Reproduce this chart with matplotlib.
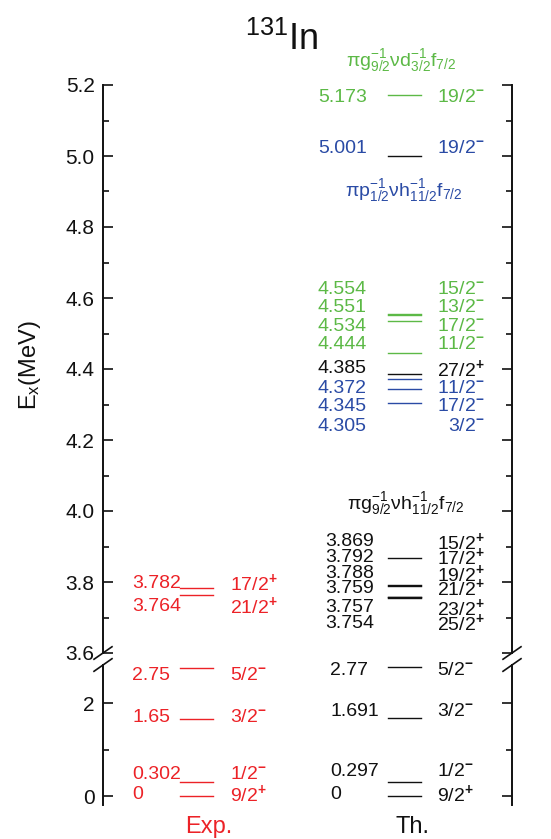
import matplotlib
matplotlib.use("Agg")
import matplotlib.pyplot as plt
from matplotlib.ticker import MultipleLocator, FixedLocator

plt.rcParams['font.family'] = ['Liberation Sans', 'DejaVu Sans']
plt.rcParams['mathtext.fontset'] = 'custom'
plt.rcParams['mathtext.rm'] = 'Liberation Sans'
plt.rcParams['mathtext.it'] = 'Liberation Sans:italic'
plt.rcParams['mathtext.bf'] = 'Liberation Sans:bold'

RED = '#EC2227'
GREEN = '#5CB946'
BLUE = '#2A4BA5'
BLACK = '#111111'

# ---- data ----
# experiment
exp_E = [0.0, 0.302, 1.65, 2.75, 3.764, 3.782]
exp_J = ['9/2+', '1/2-', '3/2-', '5/2-', '21/2+', '17/2+']
exp_lbl = ['0', '0.302', '1.65', '2.75', '3.764', '3.782']

# shell model, grouped by configuration
th_E = [0.0, 0.297, 1.691, 2.77,
        3.754, 3.757, 3.759, 3.788, 3.792, 3.869,
        4.305, 4.345, 4.372, 4.385,
        4.444, 4.534, 4.551, 4.554,
        5.001, 5.173]
th_lbl = ['0', '0.297', '1.691', '2.77',
          '3.754', '3.757', '3.759', '3.788', '3.792', '3.869',
          '4.305', '4.345', '4.372', '4.385',
          '4.444', '4.534', '4.551', '4.554',
          '5.001', '5.173']
th_J = ['9/2+', '1/2-', '3/2-', '5/2-',
        '25/2+', '23/2+', '21/2+', '19/2+', '17/2+', '15/2+',
        '3/2-', '17/2-', '11/2-', '27/2+',
        '11/2-', '17/2-', '13/2-', '15/2-',
        '19/2-', '19/2-']
th_grp = ['k', 'k', 'k', 'k',
          'k', 'k', 'k', 'k', 'k', 'k',
          'b', 'b', 'b', 'k',
          'g', 'g', 'g', 'g',
          'b', 'g']

# where the labels sit (MeV), spread so they don't overlap
exp_lbl_y = [0.04, 0.47, 1.70, 2.60, 3.732, 3.797]
th_lbl_y = [0.04, 0.52, 1.83, 2.71,
            3.684, 3.727, 3.783, 3.823, 3.870, 3.913,
            4.239, 4.293, 4.344, 4.400,
            4.468, 4.521, 4.572, 4.625,
            5.020, 5.166]

grp_col = {'k': BLACK, 'b': BLUE, 'g': GREEN}
# line colour for 5.001 is black in the original
th_line_col = [grp_col[g] for g in th_grp]
th_line_col[th_E.index(5.001)] = BLACK


def spin(j):
    return j[:-1] + r'$^{\mathbf{' + j[-1] + '}}$'


# ---- layout (pixel based) ----
W, H = 551, 839
x0, x1 = 103, 512
fig = plt.figure(figsize=(W / 100, H / 100), dpi=100)
ax_hi = fig.add_axes([x0 / W, 1 - 653 / H, (x1 - x0) / W, (653 - 85) / H])
ax_lo = fig.add_axes([x0 / W, 1 - 805 / H, (x1 - x0) / W, (805 - 665) / H])


def fx(px):
    return (px - x0) / (x1 - x0)


ax_hi.set_ylim(3.6, 5.2)
ax_lo.set_ylim(-0.19, 2.82)

for ax in (ax_hi, ax_lo):
    ax.set_xlim(0, 1)
    ax.set_xticks([])
    ax.spines['top'].set_visible(False)
    ax.spines['bottom'].set_visible(False)
    for s in ('left', 'right'):
        ax.spines[s].set_linewidth(1.4)
        ax.spines[s].set_color(BLACK)
    ax.tick_params(axis='y', which='both', direction='in', left=True, right=True,
                   labelright=False, width=1.2, colors=BLACK, labelsize=15, pad=6)
    ax.tick_params(axis='y', which='major', length=7.5)
    ax.tick_params(axis='y', which='minor', length=4.5)
    ax.patch.set_alpha(0)

ax_hi.yaxis.set_major_locator(MultipleLocator(0.2))
ax_hi.yaxis.set_minor_locator(MultipleLocator(0.1))
ax_hi.yaxis.set_major_formatter(plt.FuncFormatter(lambda v, p: f'{v:.1f}'))
ax_lo.yaxis.set_major_locator(FixedLocator([0, 2]))
ax_lo.yaxis.set_minor_locator(FixedLocator([1]))

# axis break marks
for ax, yb, dy in ((ax_hi, 0.0, 0.011), (ax_lo, 1.0, 0.045)):
    for xb in (0.0, 1.0):
        ax.plot([xb - 0.022, xb + 0.022], [yb - dy, yb + dy], color=BLACK,
                lw=1.2, transform=ax.transAxes, clip_on=False)


def pick(E):
    return ax_hi if E >= 3.6 else ax_lo


# experiment column
for E, lab, J, ly in zip(exp_E, exp_lbl, exp_J, exp_lbl_y):
    ax = pick(E)
    ax.plot([fx(180), fx(213)], [E, E], color=RED, lw=1.0)
    ax.text(fx(132), ly, lab, color=RED, fontsize=14, ha='left', va='center')
    ax.text(fx(230), ly, spin(J), color=RED, fontsize=14, ha='left', va='center')

# theory column
for E, lab, J, g, lc, ly in zip(th_E, th_lbl, th_J, th_grp, th_line_col, th_lbl_y):
    ax = pick(E)
    c = grp_col[g]
    ax.plot([fx(388), fx(421)], [E, E], color=lc, lw=1.0)
    if E >= 3.6:
        xl = 318 if E > 4.0 else 325
        ax.text(fx(xl), ly, lab, color=c, fontsize=14, ha='left', va='center')
        ax.text(fx(485), ly, spin(J), color=c, fontsize=14, ha='right', va='center')
    else:
        ax.text(fx(330), ly, lab, color=c, fontsize=14, ha='left', va='center')
        ax.text(fx(437), ly, spin(J), color=c, fontsize=14, ha='left', va='center')

# configuration labels
ax_hi.text(fx(401), 5.27, r'$\mathregular{\pi g^{-1}_{9/2}\nu d^{-1}_{3/2}f_{7/2}}$',
           color=GREEN, fontsize=14, ha='center', va='center')
ax_hi.text(fx(404), 4.904, r'$\mathregular{\pi p^{-1}_{1/2}\nu h^{-1}_{11/2}f_{7/2}}$',
           color=BLUE, fontsize=14, ha='center', va='center')
ax_hi.text(fx(406), 4.022, r'$\mathregular{\pi g^{-1}_{9/2}\nu h^{-1}_{11/2}f_{7/2}}$',
           color=BLACK, fontsize=14, ha='center', va='center')

fig.text(282 / W, 1 - 40 / H, r'$\mathregular{^{131}}$In', fontsize=26, color=BLACK,
         ha='center', va='center')
fig.text(30 / W, 1 - 365 / H, r'E$\mathregular{_x}$(MeV)', fontsize=17, color=BLACK,
         rotation=90, ha='center', va='center')
fig.text(209 / W, 1 - 827 / H, 'Exp.', fontsize=17, color=RED, ha='center', va='center')
fig.text(412 / W, 1 - 827 / H, 'Th.', fontsize=17, color=BLACK, ha='center', va='center')

fig.savefig('out.png', dpi=100)
